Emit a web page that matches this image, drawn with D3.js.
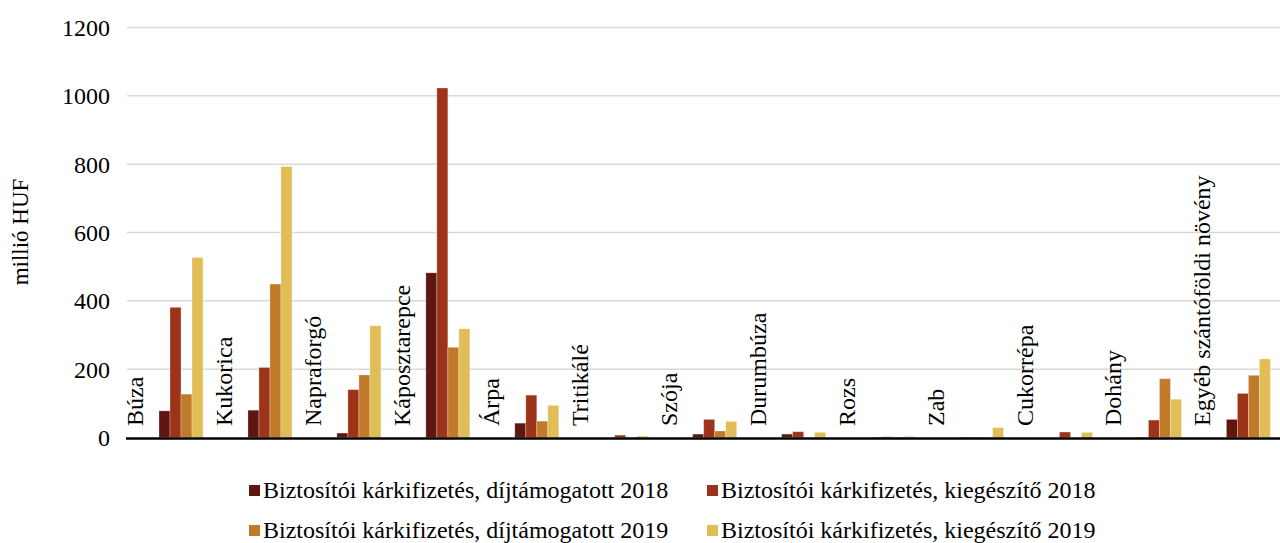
<!DOCTYPE html>
<html>
<head>
<meta charset="utf-8">
<script src="https://cdn.jsdelivr.net/npm/d3@7/dist/d3.min.js"></script>
<style>
  html, body { margin: 0; padding: 0; background: #fff; }
  svg { display: block; }
  svg text { font-family: 'Liberation Serif', 'Times New Roman', Tinos, 'DejaVu Serif', serif; }
</style>
</head>
<body>
<svg id="chart" width="1280" height="543"></svg>
<script>
// Crop categories
const categories = ["Búza", "Kukorica", "Napraforgó", "Káposztarepce", "Árpa", "Tritikálé",
  "Szója", "Durumbúza", "Rozs", "Zab", "Cukorrépa", "Dohány", "Egyéb szántóföldi növény"];

// Series names
const seriesNames = [
  "Biztosítói kárkifizetés, díjtámogatott 2018",
  "Biztosítói kárkifizetés, kiegészítő 2018",
  "Biztosítói kárkifizetés, díjtámogatott 2019",
  "Biztosítói kárkifizetés, kiegészítő 2019"
];

// Values in million HUF, one array per series
const dijtamogatott2018 = [78, 80, 13, 482, 42, 0, 10, 10, 1, 1, 0, 1, 53];
const kiegeszito2018    = [381, 205, 140, 1023, 124, 7, 53, 17, 2, 1, 16, 51, 129];
const dijtamogatott2019 = [127, 449, 183, 264, 48, 1, 19, 1, 1, 1, 0, 172, 182];
const kiegeszito2019    = [527, 793, 327, 318, 94, 4, 47, 15, 3, 29, 15, 112, 230];

const yTicks = [0, 200, 400, 600, 800, 1000, 1200];
const colors = ["#5e1610", "#9d3419", "#c07a29", "#e0bd55"];

const seriesValues = [dijtamogatott2018, kiegeszito2018, dijtamogatott2019, kiegeszito2019];

const FONT = "'Liberation Serif', 'Times New Roman', Tinos, 'DejaVu Serif', serif";

const svg = d3.select("#chart");

const left = 126, step = 88.95;
const x = d3.scaleBand().domain(categories).range([left, left + step * categories.length]);
const xs = d3.scaleBand().domain(d3.range(4)).range([33, 77]);
const y = d3.scaleLinear().domain([0, 1200]).range([437.5, 27.5]);

// Gridlines
svg.append("g").selectAll("line")
  .data(yTicks.filter(t => t > 0))
  .join("line")
  .attr("x1", 127).attr("x2", 1280)
  .attr("y1", d => y(d)).attr("y2", d => y(d))
  .attr("stroke", "#d9d9d9").attr("stroke-width", 1.5);

// Y axis tick labels
const yAxis = d3.axisLeft(y).tickValues(yTicks).tickFormat(d3.format("d")).tickSize(0).tickPadding(0);
const gy = svg.append("g").attr("transform", "translate(110,0)").call(yAxis)
  .attr("font-family", FONT).attr("font-size", 24);
gy.select(".domain").remove();
gy.selectAll("text")
  .attr("fill", "#000").attr("dy", "0.33em");

// Y axis title
svg.append("text")
  .attr("transform", "translate(28,232) rotate(-90)")
  .attr("text-anchor", "middle")
  .attr("font-family", FONT)
  .attr("font-size", 23)
  .text("millió HUF");

// Bars
const groups = svg.append("g").selectAll("g")
  .data(categories)
  .join("g")
  .attr("transform", d => `translate(${x(d)},0)`);

groups.selectAll("rect")
  .data((d, i) => seriesValues.map((vals, s) => ({ s, v: vals[i] })))
  .join("rect")
  .attr("x", d => xs(d.s))
  .attr("width", xs.bandwidth())
  .attr("y", d => y(d.v))
  .attr("height", d => y(0) - y(d.v))
  .attr("fill", d => colors[d.s])
  .attr("stroke", "#ffffff").attr("stroke-opacity", 0.35).attr("stroke-width", 0.8);

// Category labels, rotated, sitting above the baseline
groups.append("text")
  .attr("transform", "translate(17,426) rotate(-90)")
  .attr("text-anchor", "start")
  .attr("font-family", FONT)
  .attr("font-size", 24)
  .text(d => d);

// Baseline
svg.append("line")
  .attr("x1", 126).attr("x2", 1280)
  .attr("y1", 438.5).attr("y2", 438.5)
  .attr("stroke", "#000").attr("stroke-width", 2.5);

// Legend, two columns by two rows
const legendPos = [[249, 490], [707, 490], [249, 530], [707, 530]];
const legend = svg.append("g").selectAll("g")
  .data(seriesNames)
  .join("g")
  .attr("transform", (d, i) => `translate(${legendPos[i][0]},${legendPos[i][1]})`);
legend.append("rect")
  .attr("x", 0).attr("y", -5).attr("width", 11).attr("height", 11)
  .attr("fill", (d, i) => colors[i]);
legend.append("text")
  .attr("x", 14).attr("y", 8)
  .attr("font-family", FONT)
  .attr("font-size", 24)
  .text(d => d);
</script>
</body>
</html>
